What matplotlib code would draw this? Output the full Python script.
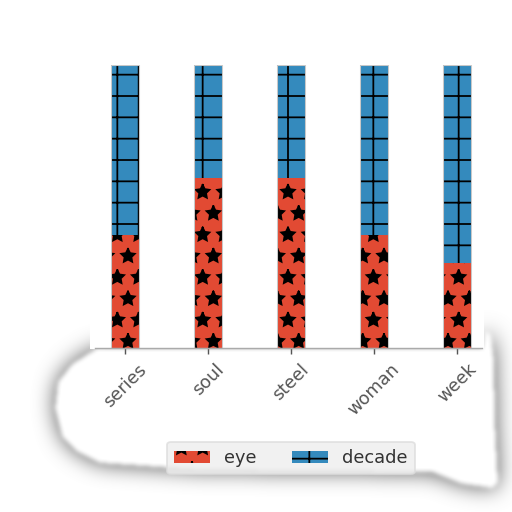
"""Stacked share bars (eye / decade) with hatches and a torn-paper shadow."""
import numpy as np
import matplotlib
matplotlib.use('Agg')
import matplotlib.pyplot as plt
from matplotlib.path import Path

CATEGORIES = ['series', 'soul', 'steel', 'woman', 'week']
EYE = [0.40, 0.60, 0.60, 0.40, 0.30]
DECADE = [0.60, 0.40, 0.40, 0.60, 0.70]
SERIES_LABELS = ['eye', 'decade']

RED = '#E24A33'
BLUE = '#348ABD'

DPI = 128
W = H = 512

# paper outline (pixels, y downward) for the shadow blob under the axis
PAPER = [(97, 348), (482, 348), (486, 330), (491, 336), (494, 360),
         (495, 420), (498, 482), (492, 488), (462, 484), (432, 472),
         (200, 470), (100, 463), (78, 452), (62, 436), (55, 408),
         (58, 382), (72, 364)]


def _blur(a: np.ndarray, r: int, passes: int = 3) -> np.ndarray:
    k = np.ones(2 * r + 1) / (2 * r + 1)
    for _ in range(passes):
        a = np.apply_along_axis(lambda v: np.convolve(v, k, mode='same'), 0, a)
        a = np.apply_along_axis(lambda v: np.convolve(v, k, mode='same'), 1, a)
    return a


def shadow_image() -> np.ndarray:
    yy, xx = np.mgrid[0:H, 0:W]
    pts = np.column_stack([xx.ravel() + 0.5, yy.ravel() + 0.5])
    mask = Path(PAPER).contains_points(pts).reshape(H, W).astype(float)
    outer = _blur(mask, 10)
    inner = _blur(mask, 2, passes=2)
    alpha = np.clip(1.4 * outer * (1 - inner), 0, 0.55)
    # no shadow above the torn top edge (the bars sit there)
    alpha[:349, 90:484] = 0
    img = np.zeros((H, W, 4))
    img[..., :3] = 0.5
    img[..., 3] = alpha
    return img


plt.rcParams['hatch.linewidth'] = 1.0
fig = plt.figure(figsize=(W / DPI, H / DPI), dpi=DPI)
fig.patch.set_facecolor('white')
fig.figimage(shadow_image(), 0, 0, zorder=0)

ax = fig.add_axes([95 / W, 1 - 348 / H, 387 / W, 283 / H])
ax.set_facecolor('none')
x = np.arange(len(CATEGORIES))
width = 0.33

ax.bar(x, EYE, width, color=RED, edgecolor='black', linewidth=0,
       hatch='*', label=SERIES_LABELS[0])
ax.bar(x, DECADE, width, bottom=EYE, color=BLUE, edgecolor='black',
       linewidth=0, hatch='+', label=SERIES_LABELS[1])
# faint outline round each full bar
ax.bar(x, np.add(EYE, DECADE), width, fill=False, edgecolor='#c8c8c8',
       linewidth=0.6)

ax.set_xlim(-30 / 83, 4 + 25 / 83)
ax.set_ylim(0, 1)
for side in ('left', 'right', 'top'):
    ax.spines[side].set_visible(False)
ax.spines['bottom'].set_color('#aaaaaa')
ax.spines['bottom'].set_linewidth(0.8)
ax.set_yticks([])
ax.set_xticks(x)
ax.set_xticklabels(CATEGORIES, rotation=45, ha='center', color='#555555',
                   fontsize=10)
ax.tick_params(axis='x', color='#555555', length=3.5, width=0.8)

handles, labels = ax.get_legend_handles_labels()
leg = fig.legend(handles, labels, loc='center', ncol=2,
                 bbox_to_anchor=(291 / W, 1 - 458 / H), fontsize=10,
                 frameon=True, facecolor='#eeeeee', edgecolor='#dddddd',
                 columnspacing=2.0, fancybox=True)
for t in leg.get_texts():
    t.set_color('#333333')

fig.savefig('out.png', dpi=DPI)
